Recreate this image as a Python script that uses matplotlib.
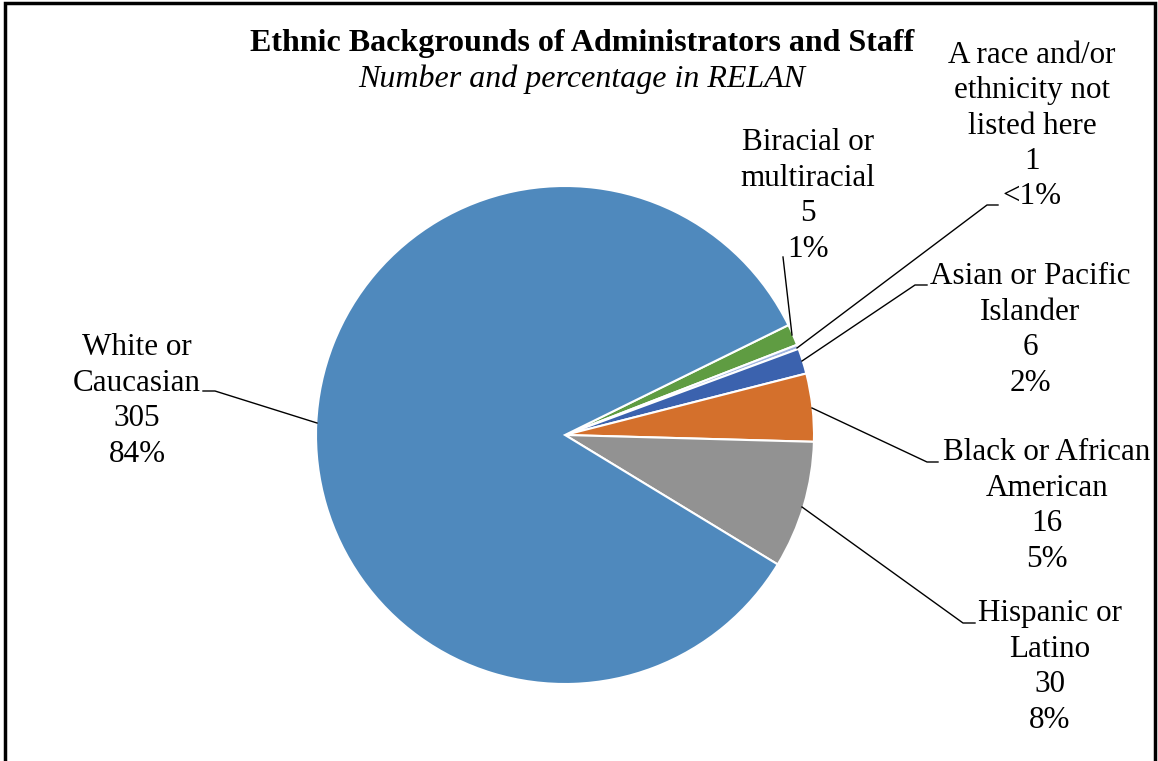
import matplotlib.pyplot as plt
from matplotlib.patches import Rectangle

# data, clockwise from the first slice (Excel order)
categories = ['Biracial or\nmultiracial',
              'A race and/or\nethnicity not\nlisted here',
              'Asian or Pacific\nIslander',
              'Black or African\nAmerican',
              'Hispanic or\nLatino',
              'White or\nCaucasian']
counts = [5, 1, 6, 16, 30, 305]
pct_labels = ['1%', '<1%', '2%', '5%', '8%', '84%']
colors = ['#5F9C42', '#A0B4E0', '#3B62AE', '#D4702C', '#929292', '#4F89BD']

W, H = 1158, 761
plt.rcParams['font.family'] = ['Liberation Serif', 'DejaVu Serif']

fig = plt.figure(figsize=(W / 100, H / 100), dpi=100)
ax = fig.add_axes([0, 0, 1, 1])

def Y(y):
    return H - y

ax.pie(counts, colors=colors, startangle=26.2, counterclock=False,
       center=(565, Y(435)), radius=249, frame=True,
       wedgeprops=dict(edgecolor='white', linewidth=1.5))
ax.set_xlim(0, W)
ax.set_ylim(0, H)
ax.set_aspect('equal')
ax.axis('off')

# label centres and leader lines (pixel coords from top-left)
label_pos = [(808, 196), (1032, 126), (1030, 330), (1047, 506), (1050, 667), (137, 401)]
leaders = [
    [(783, 257), (792, 335)],
    [(998, 205), (987, 205), (797, 348)],
    [(927, 285), (915, 285), (802, 361)],
    [(812, 408), (927, 462), (938, 462)],
    [(802, 507), (963, 623), (975, 623)],
    [(203, 391), (215, 391), (317, 423)],
]

for cat, n, pct, (x, y), pts in zip(categories, counts, pct_labels, label_pos, leaders):
    ax.text(x, Y(y), f'{cat}\n{n}\n{pct}', ha='center', va='center',
            multialignment='center', fontsize=22.4, linespacing=1.29)
    ax.plot([p[0] for p in pts], [Y(p[1]) for p in pts], color='black', lw=1)

ax.text(582, Y(44), 'Ethnic Backgrounds of Administrators and Staff',
        ha='center', va='center', fontsize=23, fontweight='bold')
ax.text(582, Y(79), 'Number and percentage in RELAN',
        ha='center', va='center', fontsize=23, fontstyle='italic')

# chart border
ax.add_patch(Rectangle((5, -20), 1150, Y(3) + 20, fill=False,
                       edgecolor='black', lw=2.5, clip_on=False))

fig.savefig('out.png', dpi=100)
